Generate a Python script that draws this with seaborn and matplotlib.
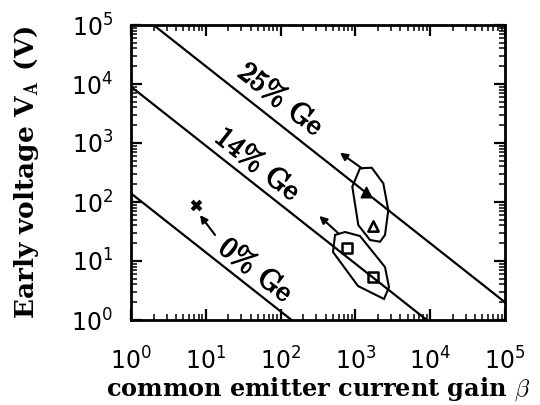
import numpy as np
import pandas as pd
import matplotlib
matplotlib.use("Agg")
import matplotlib.pyplot as plt
import matplotlib.ticker as mticker
import matplotlib.patheffects as pe
import seaborn as sns

# ---- data ----
line_labels = ["25% Ge", "14% Ge", "0% Ge"]
line_beta = [[2.0, 1.0e5], [1.0, 9000.0], [1.0, 140.0]]
line_va = [[1.0e5, 2.0], [9000.0, 1.0], [140.0, 1.0]]

label_beta = [98.0, 48.0, 45.5]
label_va = [5350.0, 424.0, 6.8]

beta_0 = [7.5]
va_0 = [90.0]
beta_14 = [765.0, 1700.0]
va_14 = [16.5, 5.4]
beta_25 = [1380.0, 1740.0]
va_25 = [150.0, 39.0]

hex25_beta = [1152, 1652, 2360, 2754, 2487, 2134, 1567, 1093, 909]
hex25_va = [373, 381, 207, 73, 27.6, 21.2, 22.7, 40.7, 182]
hex14_beta = [534, 726, 1152, 2487, 2813, 2412, 1083, 502]
hex14_va = [27.6, 31, 26.5, 7.9, 3.6, 2.27, 3.77, 14.2]

arrow_tail_beta = [1230, 591, 13.3]
arrow_tail_va = [370, 29.5, 27.6]
arrow_head_beta = [622, 329, 8.36]
arrow_head_va = [685, 58, 60]

decade_exps = [0, 1, 2, 3, 4, 5]
minor_mults = [2, 3, 4, 5, 6, 7, 8, 9]

# ---- figure ----
sns.set_theme(style="ticks")
plt.rcParams["font.family"] = ["DejaVu Sans"]
plt.rcParams["text.color"] = "black"
plt.rcParams["axes.labelcolor"] = "black"
plt.rcParams["xtick.color"] = "black"
plt.rcParams["ytick.color"] = "black"
fig = plt.figure(figsize=(5.4, 4.05), dpi=100)
ax = fig.add_axes([131 / 540, 85 / 405, 374 / 540, 295 / 405])
ax.set_xscale("log")
ax.set_yscale("log")

lines_df = pd.DataFrame({
    "beta": [b for bl in line_beta for b in bl],
    "va": [v for vl in line_va for v in vl],
    "label": [lab for lab, bl in zip(line_labels, line_beta) for _ in bl],
})
sns.lineplot(data=lines_df, x="beta", y="va", units="label", estimator=None,
             color="black", lw=1.6, ax=ax, legend=False)

sns.scatterplot(x=beta_0, y=va_0, marker="X", s=70, color="black", ax=ax,
                linewidth=0)
sns.scatterplot(x=beta_14, y=va_14, marker="s", s=60, facecolor="white",
                edgecolor="black", linewidth=1.8, ax=ax)
sns.scatterplot(x=beta_25[:1], y=va_25[:1], marker="^", s=55, color="black",
                edgecolor="black", linewidth=1.2, ax=ax)
sns.scatterplot(x=beta_25[1:], y=va_25[1:], marker="^", s=55, facecolor="white",
                edgecolor="black", linewidth=1.8, ax=ax)

for hb, hv in [(hex25_beta, hex25_va), (hex14_beta, hex14_va)]:
    ax.fill(hb, hv, facecolor="none", edgecolor="black", lw=1.5)

for tb, tv, hb, hv in zip(arrow_tail_beta, arrow_tail_va, arrow_head_beta, arrow_head_va):
    ax.annotate("", xy=(hb, hv), xytext=(tb, tv),
                arrowprops=dict(arrowstyle="-|>", color="black", lw=1.5,
                                mutation_scale=11, shrinkA=0, shrinkB=0))

for lab, lb, lv in zip(line_labels, label_beta, label_va):
    ax.text(lb, lv, lab, rotation=-38, rotation_mode="anchor", ha="center",
            va="center", fontsize=21, family="cmr10",
            path_effects=[pe.withStroke(linewidth=0.9, foreground="black")])

ax.set_xlim(1, 1e5)
ax.set_ylim(1, 1e5)
major_ticks = [10.0 ** e for e in decade_exps]
minor_ticks = [m * 10.0 ** e for e in decade_exps[:-1] for m in minor_mults]
ax.set_xticks(major_ticks)
ax.set_yticks(major_ticks)
ax.set_xticks(minor_ticks, minor=True)
ax.set_yticks(minor_ticks, minor=True)
ax.xaxis.set_minor_formatter(mticker.NullFormatter())
ax.yaxis.set_minor_formatter(mticker.NullFormatter())
ax.tick_params(which="major", direction="in", length=8, width=1.6,
               top=True, right=True, labelsize=17, color="black",
               labelcolor="black")
ax.tick_params(which="minor", direction="in", length=4, width=1.1,
               top=True, right=True, color="black")
ax.tick_params(axis="x", which="major", pad=20)
ax.tick_params(axis="y", which="major", pad=13)
for sp in ax.spines.values():
    sp.set_linewidth(2)
    sp.set_color("black")

ax.set_xlabel(r"common emitter current gain $\beta$", fontsize=17.3,
              family="DejaVu Serif", fontweight="bold", math_fontfamily="cm",
              labelpad=0)
ax.set_ylabel(r"Early voltage V$_\mathbf{A}$ (V)", fontsize=19,
              family="DejaVu Serif", fontweight="bold", math_fontfamily="cm",
              labelpad=22)

fig.savefig("out.png", dpi=100)
